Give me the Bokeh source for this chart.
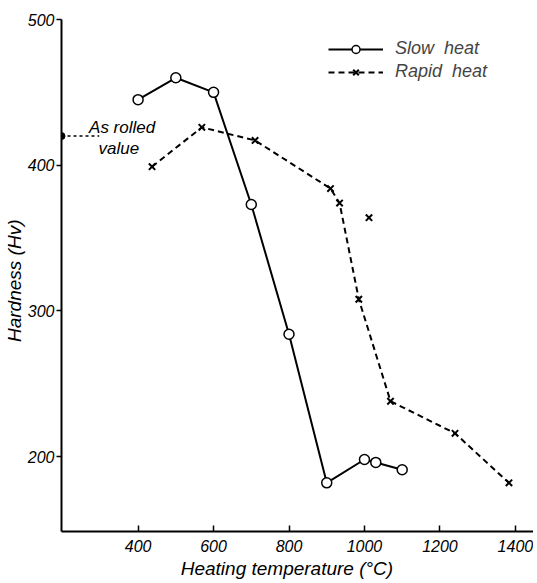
from bokeh.plotting import figure
from bokeh.models import Range1d, FixedTicker, Legend, LegendItem, Label
from bokeh.embed import file_html
from bokeh.resources import INLINE

# Slow heat series
slow_temp = [400, 500, 600, 700, 800, 900, 1000, 1030, 1100]
slow_hv = [445, 460, 450, 373, 284, 182, 198, 196, 191]

# Rapid heat series
rapid_temp = [437, 569, 710, 910, 934, 985, 1069, 1240, 1383]
rapid_hv = [399, 426, 417, 384, 374, 308, 238, 216, 182]

# Isolated rapid-heat reading
rapid_extra_temp = [1012]
rapid_extra_hv = [364]

# As-rolled value
as_rolled_temp = [197]
as_rolled_hv = [420]
leader_end_temp = 297

x_ticks = [400, 600, 800, 1000, 1200, 1400]
y_ticks = [200, 300, 400, 500]

FONT = "Liberation Sans"

p = figure(width=533, height=581, output_backend="svg", toolbar_location=None,
           x_range=Range1d(197, 1448), y_range=Range1d(148.6, 500),
           min_border_left=59, min_border_right=0, min_border_top=19, min_border_bottom=49)
p.outline_line_color = None
p.xgrid.visible = False
p.ygrid.visible = False
p.background_fill_color = "white"
p.border_fill_color = "white"

# Axes
for ax in (p.xaxis[0], p.yaxis[0]):
    ax.axis_line_width = 2
    ax.axis_line_color = "black"
    ax.major_tick_line_width = 1.5
    ax.minor_tick_line_color = None
    ax.major_label_text_font = FONT
    ax.major_label_text_font_style = "italic"
    ax.major_label_text_font_size = "16px"
    ax.major_label_text_color = "black"
    ax.axis_label_text_font = FONT
    ax.axis_label_text_font_style = "italic"
    ax.axis_label_text_color = "black"

p.xaxis.ticker = FixedTicker(ticks=x_ticks)
p.yaxis.ticker = FixedTicker(ticks=y_ticks)
p.xaxis.major_tick_in = 6
p.xaxis.major_tick_out = 0
p.yaxis.major_tick_in = 0
p.yaxis.major_tick_out = 5
p.xaxis.major_label_standoff = 8
p.yaxis.major_label_standoff = 2
p.xaxis.axis_label = "Heating   temperature   (°C)"
p.yaxis.axis_label = "Hardness   (Hv)"
p.xaxis.axis_label_text_font_size = "19px"
p.yaxis.axis_label_text_font_size = "19px"
p.xaxis.axis_label_standoff = 3
p.yaxis.axis_label_standoff = 0

# Slow heat
sl = p.line(slow_temp, slow_hv, line_color="black", line_width=2)
ss = p.scatter(slow_temp, slow_hv, marker="circle", size=10, fill_color="white",
               line_color="black", line_width=1.5)

# Rapid heat
rl = p.line(rapid_temp, rapid_hv, line_color="black", line_width=2, line_dash="6 4")
rs = p.scatter(rapid_temp, rapid_hv, marker="x", size=9, line_color="black", line_width=2)
p.scatter(rapid_extra_temp, rapid_extra_hv, marker="x", size=9, line_color="black", line_width=2)

# As-rolled value
p.line([as_rolled_temp[0], leader_end_temp], [as_rolled_hv[0], as_rolled_hv[0]],
       line_color="black", line_width=1.5, line_dash="3 3")
p.scatter(as_rolled_temp, as_rolled_hv, marker="circle", size=7, fill_color="black",
          line_color="black")
p.add_layout(Label(x=270, y=426, text="As rolled", text_font=FONT, text_font_style="italic",
                   text_font_size="17px", text_baseline="middle", text_color="black"))
p.add_layout(Label(x=295, y=411.5, text="value", text_font=FONT, text_font_style="italic",
                   text_font_size="17px", text_baseline="middle", text_color="black"))

legend = Legend(items=[LegendItem(label="Slow  heat", renderers=[sl, ss]),
                       LegendItem(label="Rapid  heat", renderers=[rl, rs])],
                location=(267, 449), glyph_width=55, glyph_height=20,
                label_text_font=FONT, label_text_font_style="italic",
                label_text_font_size="18px", label_standoff=12, spacing=2,
                padding=0, margin=0, border_line_color=None,
                background_fill_alpha=0)
p.add_layout(legend)

open("out.html", "w").write(file_html(p, INLINE))
